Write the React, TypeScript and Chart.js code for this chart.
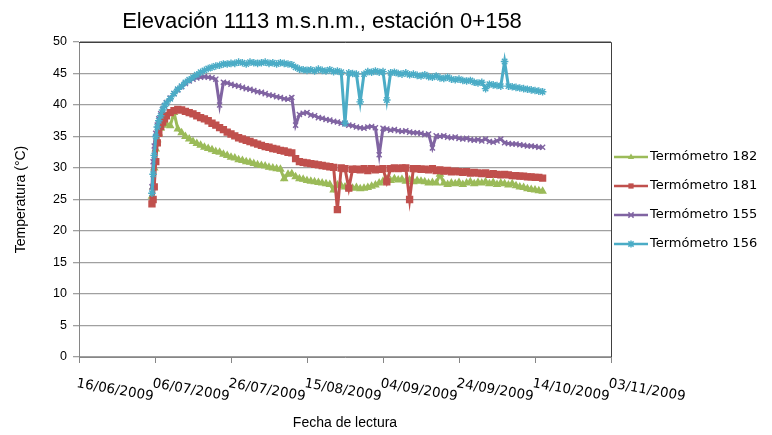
import React, { useEffect, useRef } from 'react';
import { Chart, registerables } from 'chart.js';

Chart.register(...registerables);

// Days since 16/06/2009 of each reading
const readingDays = [
  19.2, 19.5, 19.8, 20.2, 20.6, 21, 21.5, 22, 22.5,
  23, 24, 25, 26, 27, 28, 29, 30, 31, 32,
  33, 34, 35, 36, 37, 38, 39, 40, 41, 42,
  43, 44, 45, 46, 47, 48, 49, 50, 51, 52,
  53, 54, 55, 56, 57, 58, 59, 60, 61, 62,
  63, 64, 65, 66, 67, 68, 69, 70, 71, 72,
  73, 74, 75, 76, 77, 78, 79, 80, 81, 82,
  83, 84, 85, 86, 87, 88, 89, 90, 91, 92,
  93, 94, 95, 96, 97, 98, 99, 100, 101, 102,
  103, 104, 105, 106, 107, 108, 109, 110, 111, 112,
  113, 114, 115, 116, 117, 118, 119, 120, 121, 122,
];

const termometro182 = [
  25.5, 27, 30, 33, 34.5, 35.5, 36.3, 36.8, 37.0,
  37.0, 36.7, 38.8, 36.2, 35.6, 35.0, 34.6, 34.2, 33.9, 33.6,
  33.3, 33.1, 32.9, 32.6, 32.5, 32.2, 32.0, 31.7, 31.6, 31.3,
  31.2, 31.0, 30.9, 30.7, 30.5, 30.4, 30.3, 30.1, 30.0, 29.9,
  29.8, 28.3, 29.0, 29.1, 28.6, 28.3, 28.2, 28.0, 27.9, 27.8,
  27.7, 27.6, 27.5, 27.4, 26.5, 27.3, 27.2, 27.0, 26.9, 26.8,
  26.9, 26.7, 26.8, 26.9, 27.1, 27.3, 27.6, 27.9, 28.2, 28.0,
  28.3, 28.1, 28.2, 27.9, 28.1, 27.8, 28.0, 27.9, 27.8, 27.6,
  27.7, 27.6, 29.0, 27.6, 27.4, 27.6, 27.5, 27.7, 27.4, 27.6,
  27.8, 27.5, 27.7, 27.6, 27.8, 27.5, 27.7, 27.4, 27.6, 27.5,
  27.3, 27.5, 27.2, 27.0, 26.9, 26.7, 26.6, 26.5, 26.4, 26.3,
];

const termometro181 = [
  24.3, 25, 27, 31, 34, 35.5, 36.6, 37.3, 37.8,
  38.3, 38.8, 39.1, 39.3, 39.2, 39.0, 38.8, 38.6, 38.3, 38.0,
  37.8, 37.5, 37.1, 36.8, 36.4, 36.1, 35.7, 35.4, 35.1, 34.8,
  34.6, 34.4, 34.2, 34.0, 33.8, 33.6, 33.4, 33.3, 33.1, 33.0,
  32.8, 32.7, 32.5, 32.4, 31.5, 31.0, 30.9, 30.8, 30.7, 30.6,
  30.5, 30.4, 30.3, 30.2, 30.1, 23.4, 30.0, 29.9, 26.8, 29.8,
  29.8, 29.7, 29.9, 29.6, 29.9, 29.7, 29.8, 29.9, 27.8, 29.9,
  30.0, 29.9, 30.0, 30.0, 25.0, 29.9, 29.9, 29.8, 29.8, 29.7,
  29.9, 29.6, 29.7, 29.5, 29.6, 29.4, 29.5, 29.4, 29.3, 29.4,
  29.2, 29.3, 29.2, 29.1, 29.2, 29.0, 29.1, 29.0, 28.9, 29.0,
  28.9, 28.8, 28.8, 28.7, 28.7, 28.6, 28.6, 28.5, 28.5, 28.4,
];

const termometro155 = [
  27, 31, 33.5, 35.5, 36.8, 37.8, 38.6, 39.3, 39.9,
  40.4, 41.1, 41.8, 42.4, 42.9, 43.4, 43.8, 44.1, 44.3, 44.4,
  44.5, 44.4, 44.3, 44.1, 40.0, 43.6, 43.5, 43.3, 43.1, 43.0,
  42.8, 42.6, 42.5, 42.3, 42.1, 42.0, 41.8, 41.6, 41.5, 41.3,
  41.2, 41.0, 40.9, 41.2, 36.8, 38.5, 38.7, 38.8, 38.4, 38.3,
  38.0, 37.9, 37.7, 37.6, 37.4, 37.3, 37.1, 37.0, 36.8, 36.7,
  36.5, 36.4, 36.3, 36.5, 36.6, 36.4, 32.1, 36.3, 36.2, 36.0,
  36.1, 35.9, 35.8, 35.9, 35.7, 35.6, 35.6, 35.5, 35.3, 35.4,
  33.2, 35.1, 35.0, 35.1, 34.9, 34.8, 34.9, 34.7, 34.6, 34.7,
  34.5, 34.4, 34.5, 34.3, 34.6, 34.2, 34.1, 34.3, 34.6, 34.0,
  33.9, 33.8, 33.8, 33.7, 33.6, 33.5, 33.5, 33.4, 33.3, 33.3,
];

const termometro156 = [
  26, 29, 32, 35, 36.5, 37.5, 38.3, 39.2, 39.8,
  40.3, 41, 41.8, 42.5, 43, 43.6, 44, 44.4, 44.8, 45.2,
  45.5, 45.8, 46, 46.2, 46.3, 46.5, 46.5, 46.6, 46.6, 46.8,
  46.7, 46.5, 46.8, 46.7, 46.6, 46.7, 46.8, 46.6, 46.7, 46.5,
  46.7, 46.6, 46.5, 46.4, 46.0, 45.7, 45.6, 45.5, 45.6, 45.4,
  45.7, 45.5, 45.4, 45.6, 45.3, 45.4, 45.2, 37.1, 45.1, 45.0,
  44.9, 40.5, 44.9, 45.3, 45.2, 45.4, 45.2, 45.3, 40.8, 45.1,
  45.2, 45.0, 44.9, 45.1, 44.8, 44.9, 44.7, 44.6, 44.8, 44.5,
  44.4, 44.6, 44.3, 44.2, 44.4, 44.1, 44.0, 44.1, 43.9, 43.8,
  43.9, 43.6, 43.5, 43.6, 42.6, 43.3, 43.2, 43.1, 43.0, 46.9,
  43.0, 42.9, 42.8, 42.7, 42.6, 42.5, 42.4, 42.3, 42.2, 42.1,
];

const xTickLabels = [
  '16/06/2009', '06/07/2009', '26/07/2009', '15/08/2009',
  '04/09/2009', '24/09/2009', '14/10/2009', '03/11/2009',
];

const seriesNames = ['Termómetro 182', 'Termómetro 181', 'Termómetro 155', 'Termómetro 156'];
const seriesValues = [termometro182, termometro181, termometro155, termometro156];
const seriesColors = ['#9BBB59', '#C0504D', '#8064A2', '#4BACC6'];
const seriesMarkers = ['triangle', 'rect', 'crossRot', 'star'];
const seriesMarkerRadius = [3.6, 4.2, 3.6, 3.8];

const chartTitle = 'Elevación 1113 m.s.n.m., estación 0+158';
const xTitle = 'Fecha de lectura';
const yTitle = 'Temperatura (°C)';

function drawMarker(ctx: CanvasRenderingContext2D, style: string, x: number, y: number, r: number, color: string) {
  ctx.save();
  ctx.fillStyle = color;
  ctx.strokeStyle = color;
  ctx.lineWidth = 1.5;
  ctx.beginPath();
  if (style === 'triangle') {
    ctx.moveTo(x, y - r);
    ctx.lineTo(x + r * 0.9, y + r * 0.6);
    ctx.lineTo(x - r * 0.9, y + r * 0.6);
    ctx.closePath();
    ctx.fill();
  } else if (style === 'rect') {
    ctx.fillRect(x - r * 0.75, y - r * 0.75, r * 1.5, r * 1.5);
  } else {
    const d = r * 0.75;
    ctx.moveTo(x - d, y - d); ctx.lineTo(x + d, y + d);
    ctx.moveTo(x + d, y - d); ctx.lineTo(x - d, y + d);
    if (style === 'star') { ctx.moveTo(x, y - r); ctx.lineTo(x, y + r); }
    ctx.stroke();
  }
  ctx.restore();
}

const decorPlugin = {
  id: 'decor',
  afterDraw(chart: any) {
    const { ctx, chartArea, scales } = chart;
    const x = scales.x;
    ctx.save();
    // frame top & right
    ctx.strokeStyle = '#404040';
    ctx.lineWidth = 1;
    ctx.beginPath();
    const top = Math.round(chartArea.top) + 0.5;
    const right = Math.round(chartArea.right) + 0.5;
    ctx.moveTo(chartArea.left, top);
    ctx.lineTo(right, top);
    ctx.lineTo(right, chartArea.bottom);
    ctx.stroke();

    // title
    ctx.fillStyle = '#000';
    ctx.font = '22px "Liberation Sans", Arial, sans-serif';
    ctx.textAlign = 'center';
    ctx.textBaseline = 'alphabetic';
    ctx.fillText(chartTitle, 322, 28);

    // rotated x tick labels
    ctx.font = '13.5px "DejaVu Sans", sans-serif';
    ctx.textAlign = 'left';
    x.ticks.forEach((t: any, i: number) => {
      const px = x.getPixelForValue(t.value);
      ctx.save();
      ctx.translate(px - 3, 387);
      ctx.rotate((10 * Math.PI) / 180);
      ctx.fillText(xTickLabels[i] ?? '', 0, 0);
      ctx.restore();
    });

    // legend
    const ys = [157, 186, 215, 244];
    ctx.font = '13px "DejaVu Sans", sans-serif';
    ctx.textBaseline = 'middle';
    seriesNames.forEach((name, i) => {
      const y = ys[i];
      ctx.strokeStyle = seriesColors[i];
      ctx.lineWidth = 2.5;
      ctx.beginPath();
      ctx.moveTo(614, y);
      ctx.lineTo(648, y);
      ctx.stroke();
      drawMarker(ctx, seriesMarkers[i], 631, y, 3.5, seriesColors[i]);
      ctx.fillStyle = '#000';
      ctx.fillText(name, 650, y);
    });
    ctx.restore();
  },
};

export default function App() {
  const ref = useRef<HTMLCanvasElement | null>(null);
  useEffect(() => {
    if (!ref.current) return;
    const datasets = seriesValues.map((vals, i) => ({
      label: seriesNames[i],
      data: vals.map((v, j) => ({ x: readingDays[j], y: v })),
      borderColor: seriesColors[i],
      backgroundColor: seriesColors[i],
      borderWidth: 3,
      pointStyle: seriesMarkers[i] as any,
      pointRadius: seriesMarkerRadius[i],
      pointBorderWidth: 1.4,
      pointBorderColor: seriesColors[i],
      pointBackgroundColor: seriesColors[i],
      order: 3 - i,
      tension: 0,
    }));
    const chart = new Chart(ref.current, {
      type: 'line',
      data: { datasets },
      options: {
        responsive: false,
        animation: false,
        devicePixelRatio: 1,
        events: [],
        layout: { padding: { top: 42, right: 161, left: 0, bottom: 0 } },
        plugins: {
          legend: { display: false },
          title: { display: false },
          tooltip: { enabled: false },
        },
        scales: {
          x: {
            type: 'linear',
            min: 0,
            max: 140,
            ticks: { stepSize: 20, display: false },
            grid: { drawOnChartArea: false, drawTicks: true, tickLength: 6, color: '#868686' },
            border: { color: '#868686', width: 1 },
            title: {
              display: true,
              text: xTitle,
              color: '#000',
              font: { family: '"Liberation Sans", Arial, sans-serif', size: 14 },
              padding: { top: 0, bottom: 3 },
            },
            afterFit: (s: any) => { s.height = 78; },
          },
          y: {
            min: 0,
            max: 50,
            ticks: {
              stepSize: 5,
              color: '#000',
              padding: 6,
              font: { family: '"Liberation Sans", Arial, sans-serif', size: 12.5 },
            },
            grid: { color: '#a0a0a0', lineWidth: 1.3, drawTicks: true, tickLength: 6 },
            border: { color: '#868686', width: 1 },
            title: {
              display: true,
              text: yTitle,
              color: '#000',
              font: { family: '"Liberation Sans", Arial, sans-serif', size: 14 },
              padding: { top: 13, bottom: 0 },
            },
            afterFit: (s: any) => { s.width = 79; },
          },
        },
      } as any,
      plugins: [decorPlugin],
    });
    return () => chart.destroy();
  }, []);

  return (
    <div style={{ position: 'fixed', left: 0, top: 0, width: 772, height: 435, background: '#fff' }}>
      <canvas ref={ref} width={772} height={435} style={{ display: 'block', width: 772, height: 435 }} />
    </div>
  );
}
